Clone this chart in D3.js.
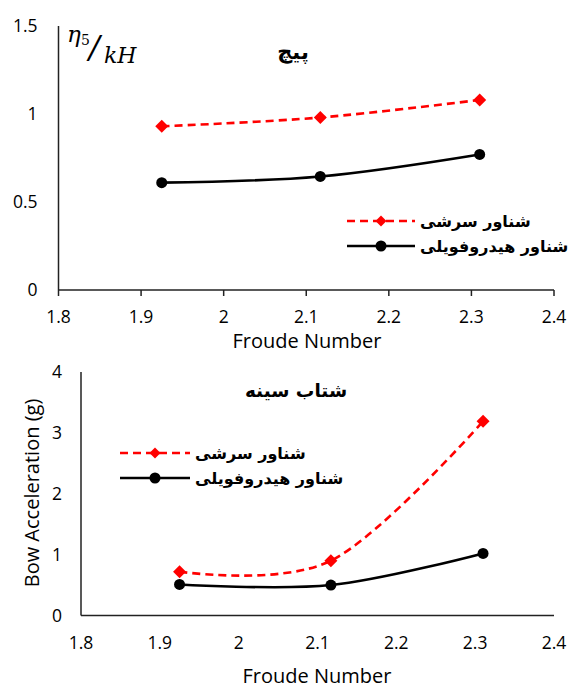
<!DOCTYPE html>
<html>
<head>
<meta charset="utf-8">
<script src="https://cdn.jsdelivr.net/npm/d3@7"></script>
<style>
  html, body { margin: 0; padding: 0; background: #fff; }
  svg { display: block; }
  .tick-label { font-family: "Open Sans", sans-serif; font-size: 17.5px; fill: #000; }
  .axis-title { font-family: "Open Sans", sans-serif; font-size: 20px; fill: #000; }
  .fa { font-family: "DejaVu Sans", sans-serif; font-weight: bold; fill: #000; }
</style>
</head>
<body>
<script>
// ── data ─────────────────────────────────────────────
const froude = [1.925, 2.117, 2.31];
const pitchSurface   = [0.93, 0.98, 1.08];
const pitchHydrofoil = [0.61, 0.645, 0.77];
const accelSurface   = [0.72, 0.9, 3.19];
const accelHydrofoil = [0.51, 0.5, 1.02];
const xTicks = [1.8, 1.9, 2, 2.1, 2.2, 2.3, 2.4];
const yTicksPitch = [0, 0.5, 1, 1.5];
const yTicksAccel = [0, 1, 2, 3, 4];
const seriesNames = ['شناور سرشی', 'شناور هیدروفویلی'];
const titles = ['پیچ', 'شتاب سینه'];

const W = 568, H = 686;
const RED = '#ff0000', BLACK = '#000000';
const svg = d3.select('body').append('svg').attr('width', W).attr('height', H);

const diamond = 'M0,-6.5L6.5,0L0,6.5L-6.5,0Z';
const curve = d3.curveCatmullRom.alpha(0);   // excel-achtige "smoothed line"

function drawPanel(p) {
  const x = d3.scaleLinear().domain([1.8, 2.4]).range([p.left, p.right]);
  const y = d3.scaleLinear().domain([0, p.yMax]).range([p.bottom, p.top]);
  const g = svg.append('g');

  // assen
  g.append('line').attr('x1', x(1.8)).attr('x2', x(1.8)).attr('y1', y(p.yMax)).attr('y2', y(0))
    .attr('stroke', '#222').attr('stroke-width', 1.5);
  g.append('line').attr('x1', x(1.8)).attr('x2', x(2.4)).attr('y1', y(0)).attr('y2', y(0))
    .attr('stroke', '#222').attr('stroke-width', 1.5);
  if (p.xTickMarks) {
    g.selectAll('.xt').data(xTicks).join('line')
      .attr('x1', d => x(d)).attr('x2', d => x(d)).attr('y1', y(0)).attr('y2', y(0) + 6)
      .attr('stroke', '#222').attr('stroke-width', 1.5);
  }
  g.selectAll('.xl').data(xTicks).join('text').attr('class', 'tick-label')
    .attr('x', d => x(d)).attr('y', p.xLabelY).attr('text-anchor', 'middle').attr('dy', '0.35em')
    .text(d => d3.format('')(d));
  g.selectAll('.yl').data(p.yTicks).join('text').attr('class', 'tick-label')
    .attr('x', x(1.8) - p.yLabelGap).attr('y', d => y(d)).attr('text-anchor', 'end').attr('dy', '0.35em')
    .text(d => d);

  g.append('text').attr('class', 'axis-title').attr('x', p.xTitle[0]).attr('y', p.xTitle[1])
    .attr('text-anchor', 'middle').attr('dy', '0.35em').text('Froude Number');

  // titel
  g.append('text').attr('class', 'fa').attr('font-size', p.titleSize).attr('x', p.titlePos[0]).attr('y', p.titlePos[1])
    .attr('text-anchor', 'middle').attr('dy', '0.35em').text(p.title);

  // lijnen + markers
  const line = d3.line().x((d, i) => x(froude[i])).y(d => y(d)).curve(curve);
  g.append('path').attr('d', line(p.surface)).attr('fill', 'none')
    .attr('stroke', RED).attr('stroke-width', 2.6).attr('stroke-dasharray', '8,5');
  g.append('path').attr('d', line(p.hydro)).attr('fill', 'none')
    .attr('stroke', BLACK).attr('stroke-width', 2.6);
  g.selectAll('.dm').data(p.surface).join('path')
    .attr('d', diamond).attr('fill', RED)
    .attr('transform', (d, i) => `translate(${x(froude[i])},${y(d)})`);
  g.selectAll('.ci').data(p.hydro).join('circle')
    .attr('cx', (d, i) => x(froude[i])).attr('cy', d => y(d)).attr('r', 5.5).attr('fill', BLACK);

  // legenda
  const [lx0, lx1, ly] = p.legend;
  const mid = (lx0 + lx1) / 2;
  const lg = g.append('g');
  lg.append('line').attr('x1', lx0).attr('x2', lx1).attr('y1', ly).attr('y2', ly)
    .attr('stroke', RED).attr('stroke-width', 2.6).attr('stroke-dasharray', '8,5');
  lg.append('path').attr('d', diamond).attr('fill', RED).attr('transform', `translate(${mid},${ly}) scale(0.85)`);
  lg.append('line').attr('x1', lx0).attr('x2', lx1).attr('y1', ly + 25).attr('y2', ly + 25)
    .attr('stroke', BLACK).attr('stroke-width', 2.6);
  lg.append('circle').attr('cx', mid).attr('cy', ly + 25).attr('r', 5.5).attr('fill', BLACK);
  lg.selectAll('.lt').data(seriesNames).join('text').attr('class', 'fa').attr('font-size', 16)
    .attr('x', lx1 + 5).attr('y', (d, i) => ly + i * 25).attr('dy', '0.35em')
    .attr('text-anchor', 'start').attr('direction', 'ltr').text(d => d);
  return { x, y };
}

// bovenste paneel: pitch
drawPanel({
  left: 58.5, right: 554, top: 26, bottom: 290, yMax: 1.5, yTicks: yTicksPitch,
  xTickMarks: true, xLabelY: 317, yLabelGap: 21, xTitle: [307, 341],
  title: titles[0], titleSize: 21, titlePos: [293, 52],
  surface: pitchSurface, hydro: pitchHydrofoil, legend: [347, 415, 221]
});

// y-label η5/kH
const yl = svg.append('g').attr('font-family', '"DejaVu Serif", serif').attr('fill', '#000');
yl.append('text').attr('x', 67).attr('y', 42).attr('font-size', 23).attr('font-style', 'italic').text('η');
yl.append('text').attr('x', 81).attr('y', 45).attr('font-size', 14).text('5');
yl.append('text').attr('x', 89).attr('y', 58).attr('font-size', 32).attr('font-style', 'italic').text('/');
yl.append('text').attr('x', 104).attr('y', 63).attr('font-size', 22).attr('font-style', 'italic').text('kH');

// onderste paneel: versnelling boeg
drawPanel({
  left: 81, right: 554, top: 372, bottom: 615.5, yMax: 4, yTicks: yTicksAccel,
  xTickMarks: false, xLabelY: 643, yLabelGap: 19, xTitle: [317, 676],
  title: titles[1], titleSize: 18.5, titlePos: [296, 391],
  surface: accelSurface, hydro: accelHydrofoil, legend: [120, 190, 453]
});

svg.append('text').attr('class', 'axis-title').attr('font-size', 19)
  .attr('transform', 'translate(32,493) rotate(-90)').attr('text-anchor', 'middle').attr('dy', '0.35em')
  .text('Bow Acceleration (g)');
</script>
</body>
</html>
